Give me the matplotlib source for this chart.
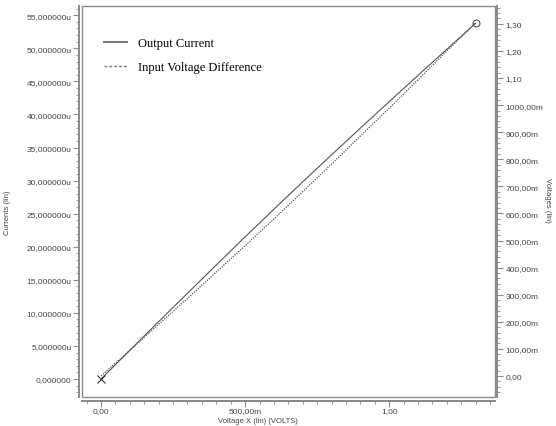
import matplotlib
matplotlib.use('Agg')
import matplotlib.pyplot as plt
from matplotlib.lines import Line2D
from matplotlib.patches import Rectangle
from matplotlib.ticker import MultipleLocator

# sweep values (volts)
voltage_x = [0.0, 0.1, 0.2, 0.3, 0.4, 0.5, 0.6, 0.7, 0.8, 0.9, 1.0, 1.1, 1.2, 1.3]
# output current (uA)
output_current = [0.0, 4.34, 8.68, 12.96, 17.25, 21.49, 25.68, 29.82, 33.90,
                  37.94, 41.93, 45.92, 49.86, 53.8]
# input voltage difference (V)
input_vdiff = [0.0, 0.095, 0.191, 0.286, 0.384, 0.481, 0.580, 0.681, 0.782,
               0.886, 0.989, 1.094, 1.200, 1.305]

left_ticks = [0, 5, 10, 15, 20, 25, 30, 35, 40, 45, 50, 55]
left_labels = ['0,000000', '5,000000u', '10,000000u', '15,000000u', '20,000000u',
               '25,000000u', '30,000000u', '35,000000u', '40,000000u',
               '45,000000u', '50,000000u', '55,000000u']
right_ticks = [0.0, 0.1, 0.2, 0.3, 0.4, 0.5, 0.6, 0.7, 0.8, 0.9, 1.0, 1.1, 1.2, 1.3]
right_labels = ['0,00', '100,00m', '200,00m', '300,00m', '400,00m', '500,00m',
                '600,00m', '700,00m', '800,00m', '900,00m', '1000,00m',
                '1,10', '1,20', '1,30']
x_ticks = [0.0, 0.5, 1.0]
x_labels = ['0,00', '500,00m', '1,00']

axis_grey = '#8a8a8a'
text_grey = '#444444'
line_grey = '#555555'
plt.rcParams['font.family'] = ['Liberation Sans', 'DejaVu Sans']

fig = plt.figure(figsize=(5.56, 4.27), dpi=100)
ax = fig.add_axes([82 / 556, 1 - 398 / 427, 413 / 556, 391 / 427])
ax2 = ax.twinx()

ax.plot(voltage_x, output_current, color=line_grey, lw=0.8)
ax2.plot(voltage_x, input_vdiff, color=line_grey, lw=0.9, linestyle=(0, (1, 1)))
ax.plot([voltage_x[0]], [output_current[0]], marker='x', color='#333333',
        markersize=6, mew=0.8)
ax.plot([voltage_x[-1]], [output_current[-1]], marker='o', mfc='none',
        mec='#555555', markersize=5, mew=0.8)

ax.set_xlim(-0.066, 1.367)
ax.set_ylim(-2.72, 56.4)
ax2.set_ylim(-0.0776, 1.366)

ax.set_xticks(x_ticks)
ax.set_xticklabels(x_labels)
ax.xaxis.set_minor_locator(MultipleLocator(0.05))
ax.set_yticks(left_ticks)
ax.set_yticklabels(left_labels)
ax.yaxis.set_minor_locator(MultipleLocator(1))
ax2.set_yticks(right_ticks)
ax2.set_yticklabels(right_labels)
ax2.yaxis.set_minor_locator(MultipleLocator(0.02))

for a in (ax, ax2):
    for s in a.spines.values():
        s.set_visible(False)
        s.set_color(axis_grey)
        s.set_linewidth(1.4)
    a.tick_params(which='major', length=4, width=0.8, color=axis_grey, pad=2,
                  labelsize=6, labelcolor=text_grey)
    a.tick_params(which='minor', length=2, width=0.6, color=axis_grey)
ax.tick_params(axis='x', which='major', pad=0.5)
ax.tick_params(axis='y', which='major', pad=1)

ax.spines['left'].set_visible(True)
ax.spines['left'].set_position(('outward', 2.5))
ax.spines['bottom'].set_visible(True)
ax.spines['bottom'].set_position(('outward', 3))
ax2.spines['right'].set_visible(True)
ax2.spines['right'].set_position(('outward', 1.5))

ax.add_patch(Rectangle((0, 0), 1, 1, transform=ax.transAxes, fill=False,
                       ec=axis_grey, lw=1.0, clip_on=False))

fig.text(8 / 556, 1 - 213 / 427, 'Currents (lin)', rotation=90, ha='center',
         va='center', size=5.5, color=text_grey)
fig.text(548 / 556, 1 - 200 / 427, 'Voltages (lin)', rotation=-90, ha='center',
         va='center', size=5.5, color=text_grey)
fig.text(258 / 556, 1 - 421.5 / 427, 'Voltage X (lin) (VOLTS)', ha='center',
         va='center', size=5.5, color=text_grey)

handles = [Line2D([], [], color='#777777', lw=1.5),
           Line2D([], [], color='#777777', lw=1.0, linestyle=(0, (2, 1.5)))]
fig.legend(handles, ['Output Current', 'Input Voltage Difference'],
           loc='upper left', bbox_to_anchor=(104 / 556, 1 - 38 / 427),
           frameon=False, borderpad=0, borderaxespad=0, handlelength=1.85,
           handletextpad=0.9, labelspacing=0.95,
           prop={'family': 'Liberation Serif', 'size': 9})

fig.savefig('out.png', dpi=100)
